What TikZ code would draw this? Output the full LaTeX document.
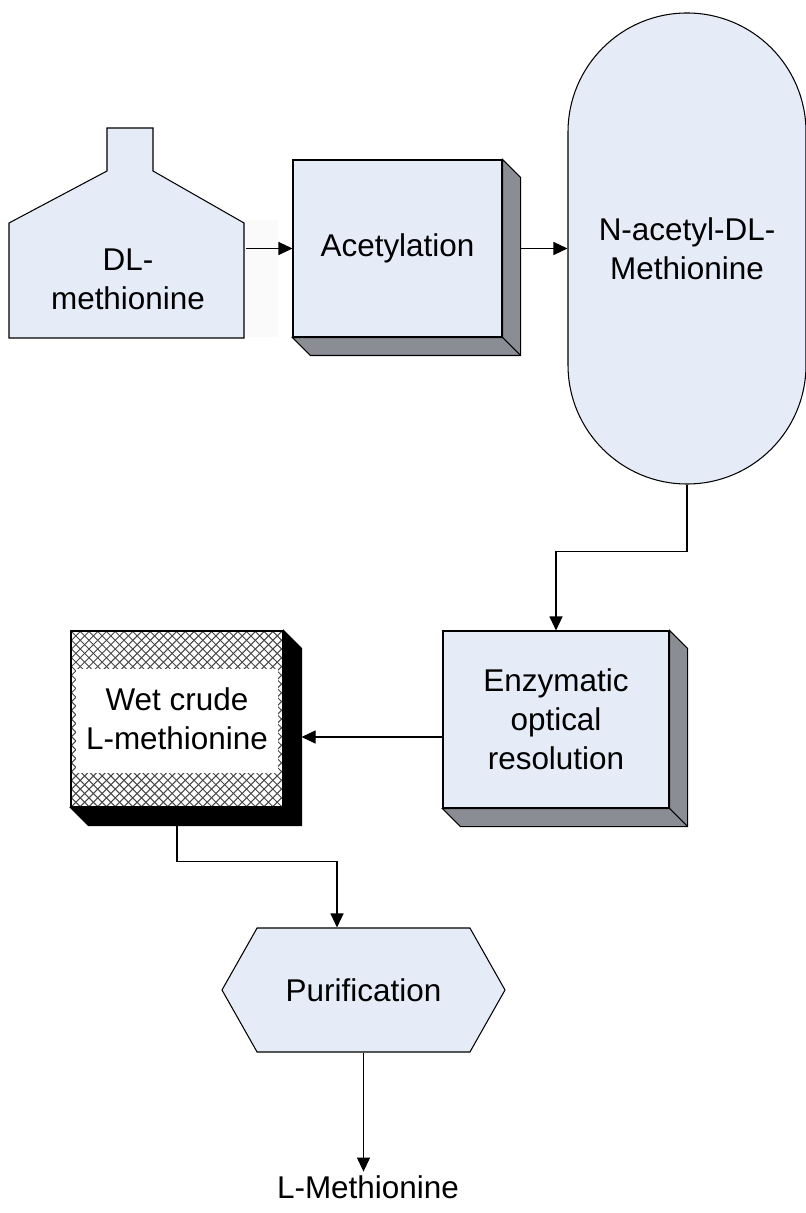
\documentclass[tikz,border=0pt]{standalone}
\usepackage{fontspec}
\setmainfont{Liberation Sans}
\usetikzlibrary{
  arrows.meta,
  shapes.symbols,
  positioning
}
\definecolor{boxblue}{RGB}{230,236,247}
\definecolor{sidegray}{RGB}{139,141,148}
\definecolor{hatchgray}{RGB}{70,70,70}
\tikzset{
  flow/.style={line width=0.6pt, -{Triangle[length=0.28cm,width=0.26cm]}},
  label/.style={align=center, font=\fontsize{17.9}{22.2}\selectfont},
  face/.style={label, draw=black, line width=0.6pt, fill=boxblue},
  hatchline/.style={hatchgray, line width=0.6pt}
}
% side faces of a raised box
\newcommand{\raised}[2]{%
  \filldraw[fill=#2, draw=black, line width=0.6pt] (#1.north east) -- ++(0.36,-0.36)
    |- ([shift={(0.36,-0.36)}]#1.south west) -- (#1.south west) -- (#1.south east) -- cycle;
  \draw[line width=0.6pt] (#1.south east) -- ++(0.36,-0.36);}

\begin{document}
\begin{tikzpicture}
        \useasboundingbox (0,0) rectangle (16.1,-24.26);
        \fill[black!2] (4.88,-4.4) rectangle (5.56,-6.74);
        % tank
        \filldraw[fill=boxblue, line width=0.6pt] (0.18,-6.76) -- (0.18,-4.46) -- (2.14,-3.42) -- (2.14,-2.56)
            -- (3.06,-2.56) -- (3.06,-3.42) -- (4.88,-4.46) -- (4.88,-6.76) -- cycle;
        \node[label, minimum width=4.7cm, minimum height=2.3cm] (dl) at (2.56,-5.58) {DL-\\methionine};

        \node[face, minimum width=4.18cm, minimum height=3.54cm] (acet) at (7.95,-4.97) {Acetylation};
        \raised{acet}{sidegray}

        \node[face, rounded corners=2.38cm, minimum width=4.76cm, minimum height=9.42cm]
            (nacet) at (13.74,-4.97) {N-acetyl-DL-\\Methionine};

        \node[face, minimum width=4.52cm, minimum height=3.54cm] (enz) at (11.12,-14.39)
            {Enzymatic\\optical\\resolution};
        \raised{enz}{sidegray}

        % hatched box
        \begin{scope}
          \clip (1.42,-12.62) rectangle (5.66,-16.14);
          \foreach \k in {-21,...,25} {
            \draw[hatchline] ({1.42+0.175*\k},-16.14) -- ++(3.52,3.52);
            \draw[hatchline] ({1.42+0.175*\k},-12.62) -- ++(3.52,-3.52);
          }
        \end{scope}
        \fill[white] (1.52,-13.38) rectangle (5.56,-15.46);
        \node[label, draw=black, line width=0.6pt, minimum width=4.24cm, minimum height=3.52cm]
            (wet) at (3.54,-14.38) {Wet crude\\L-methionine};
        \raised{wet}{black}

        \node[face, shape=signal, signal to=west and east, signal pointer angle=121,
            minimum width=5.66cm, minimum height=2.48cm] (pur) at (7.27,-19.8) {Purification};
        \node[label, inner sep=2pt] (lmet) at (7.36,-23.74) {L-Methionine};

        \coordinate (wetin) at ([xshift=0.36cm,yshift=-0.36cm]wet.east);
        \coordinate (wetout) at ([yshift=-0.36cm]wet.south);

        \draw[flow] (acet.west -| dl.east) -- (acet.west);
        \draw[flow] ([xshift=0.36cm]acet.east) -- (nacet.west);
        \draw[flow] (nacet.south) -- ++(0,-1.34) -| (enz.north);
        \draw[flow] (enz.west |- wetin) -- (wetin);
        \draw[flow] (wetout) -- ++(0,-0.72) -| ([xshift=-0.53cm]pur.north);
        \draw[flow] (pur.south) -- (pur.south |- lmet.north);
\end{tikzpicture}
\end{document}
